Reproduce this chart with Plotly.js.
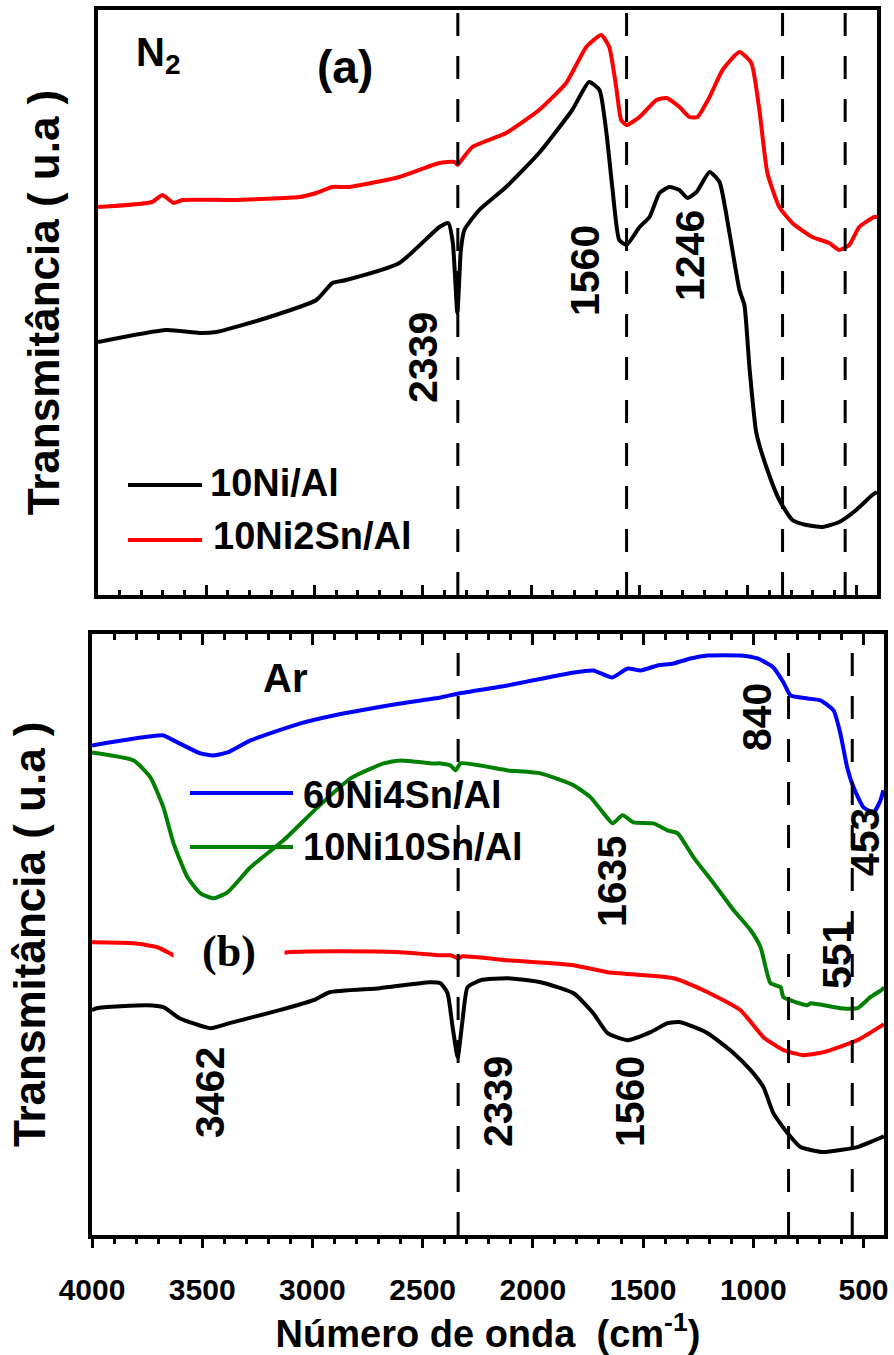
<!DOCTYPE html>
<html>
<head>
<meta charset="utf-8">
<script src="https://cdn.plot.ly/plotly-3.0.1.min.js"></script>
<style>html,body{margin:0;padding:0;background:#fff;}#chart{width:894px;height:1355px;}</style>
</head>
<body>
<div id="chart"></div>
<script>
// ---------- DATA (transmittance in arbitrary units) ----------
// Panel (a) N2
const n2_wn_ni = [4000,3685,3532,3454,3223,2992,2918,2854,2609,2424,2383,2362,2341,2325,2309,2240,2116,1964,1811,1733,1685,1653,1626,1594,1560,1500,1454,1408,1362,1316,1279,1237,1177,1131,1085,1039,1016,993,961,910,855,795,730,656,578,500,426,404];
const n2_t_ni  = [253,265,262,263,277,295,312,315,332,368,372,352,282,345,365,385,408,442,485,513,505,462,408,355,350,368,378,402,408,405,397,403,423,413,362,305,290,228,162,125,95,75,70,68,73,85,100,103];

const n2_wn_ni2sn = [4000,3750,3703,3650,3610,3379,3070,2992,2918,2840,2609,2424,2355,2340,2325,2272,2116,1964,1839,1746,1677,1640,1608,1585,1560,1500,1422,1376,1316,1270,1233,1177,1117,1039,984,947,910,855,795,703,625,578,532,486,417,404];
const n2_t_ni2sn  = [388,393,400,392,395,395,398,402,408,408,418,432,433,430,434,448,462,485,512,548,560,548,508,475,470,478,495,497,488,478,478,498,525,543,532,485,422,388,372,358,352,345,350,368,378,378];

// Panel (b) Ar
const ar_wn_ni = [4000,3978,3751,3676,3603,3462,3376,3149,2995,2922,2695,2468,2419,2387,2364,2341,2319,2296,2237,2115,1965,1815,1726,1661,1570,1466,1389,1330,1207,1089,1012,954,909,845,786,681,605,527,469,414,407];
const ar_t_ni  = [225,227,230,228,217,207,212,225,235,243,247,253,252,242,208,178,215,248,255,257,253,242,222,202,195,203,212,213,202,182,165,148,122,102,88,83,85,88,93,98,99];

const ar_wn_ni2sn = [4000,3811,3703,3612,3500,3450,3350,3200,3113,2904,2601,2419,2374,2337,2320,2115,1815,1661,1362,1207,1058,954,863,772,681,527,414,407];
const ar_t_ni2sn  = [293,292,288,278,270,266,272,280,283,284,283,280,280,277,279,275,270,263,257,243,225,198,185,180,183,195,210,211];

const ar_wn_ni60sn4 = [4000,3676,3630,3508,3449,3385,3281,3054,2904,2601,2419,2337,2115,1815,1726,1640,1570,1511,1434,1362,1285,1207,1058,981,909,863,831,754,695,636,605,574,545,500,455,423,410];
const ar_t_ni60sn4  = [490,500,495,482,480,483,495,512,520,532,538,542,550,563,565,558,567,565,570,572,577,580,580,577,568,553,540,537,535,525,502,468,448,428,423,435,445];

const ar_wn_ni10sn = [4000,3811,3735,3676,3630,3567,3508,3449,3385,3281,3131,2977,2827,2677,2600,2451,2419,2374,2351,2328,2115,1965,1815,1738,1679,1638,1593,1543,1452,1389,1343,1271,1180,1089,1012,967,922,876,863,754,740,605,527,469,414,407];
const ar_t_ni10sn  = [483,475,458,428,392,358,342,337,343,368,395,428,457,472,475,472,472,470,465,472,465,462,450,438,422,412,420,413,412,405,402,378,352,325,305,288,252,248,238,230,232,227,227,238,246,248];

// reference lines (cm-1) and tick labels
const n2_lines = [2339, 1560, 840, 551];
const ar_lines = [2339, 840, 551];
const tickVals = [4000, 3500, 3000, 2500, 2000, 1500, 1000, 500];
const tickText = ['4000', '3500', '3000', '2500', '2000', '1500', '1000', '500'];
const seriesNames = ['10Ni/Al', '10Ni2Sn/Al', '60Ni4Sn/Al', '10Ni10Sn/Al'];
const seriesColors = ['#000000', '#ff0000', '#0000ff', '#008000'];

// ---------- CHART ----------
const W = 894, H = 1355;
const px = v => v / W;
const py = v => 1 - v / H;
const SANS = '"Liberation Sans", Arial, Helvetica, sans-serif';
const SERIF = '"Liberation Serif", "Times New Roman", serif';
const LW = 4;

function tr(x, y, i, xa, ya) {
  return {x: x, y: y, type: 'scatter', mode: 'lines', name: seriesNames[i],
          line: {color: seriesColors[i], width: LW, shape: 'spline', smoothing: 0.5}, xaxis: xa, yaxis: ya,
          showlegend: false, hoverinfo: 'skip'};
}

const data = [
  tr(n2_wn_ni, n2_t_ni, 0, 'x', 'y'),
  tr(n2_wn_ni2sn, n2_t_ni2sn, 1, 'x', 'y'),
  tr(ar_wn_ni, ar_t_ni, 0, 'x2', 'y2'),
  tr(ar_wn_ni2sn, ar_t_ni2sn, 1, 'x2', 'y2'),
  tr(ar_wn_ni10sn, ar_t_ni10sn, 3, 'x2', 'y2'),
  tr(ar_wn_ni60sn4, ar_t_ni60sn4, 2, 'x3', 'y2')
];

const shapes = [];
n2_lines.forEach(v => shapes.push({type: 'line', xref: 'x', yref: 'y domain', x0: v, x1: v, y0: 0, y1: 1,
  line: {color: '#000', width: 3, dash: '23px,20px'}, layer: 'above'}));
ar_lines.forEach(v => shapes.push({type: 'line', xref: 'x2', yref: 'y2 domain', x0: v, x1: v, y0: 0, y1: 1,
  line: {color: '#000', width: 3, dash: '23px,20px'}, layer: 'above'}));

// manual legends
const legendItems = [
  {i: 0, x0: 128, x1: 202, y: 485, tx: 208, ty: 483},
  {i: 1, x0: 128, x1: 202, y: 540, tx: 211, ty: 536},
  {i: 2, x0: 190, x1: 293, y: 793, tx: 301, ty: 795},
  {i: 3, x0: 190, x1: 293, y: 847, tx: 301, ty: 847}
];
legendItems.forEach(it => shapes.push({type: 'line', xref: 'paper', yref: 'paper',
  x0: px(it.x0), x1: px(it.x1), y0: py(it.y), y1: py(it.y),
  line: {color: seriesColors[it.i], width: 4}}));

function ann(text, x, y, size, opts) {
  return Object.assign({text: text, xref: 'paper', yref: 'paper', x: px(x), y: py(y),
    xanchor: 'center', yanchor: 'middle', showarrow: false,
    font: {family: SANS, size: size, color: '#000', weight: 700}}, opts || {});
}

const annotations = [
  ann('<b>N<sub>2</sub></b>', 158, 55, 40),
  ann('<b>(a)</b>', 345, 67, 46),
  ann('<b>2339</b>', 423, 358, 41, {textangle: -90}),
  ann('<b>1560</b>', 585, 271, 41, {textangle: -90}),
  ann('<b>1246</b>', 690, 256, 41, {textangle: -90}),
  ann('<b>Ar</b>', 285, 678, 40),
  ann('<b>(b)</b>', 229, 951, 44, {font: {family: SERIF, size: 44, color: '#000', weight: 700},
       bgcolor: '#ffffff', width: 108, height: 48}),
  ann('<b>840</b>', 757, 717, 41, {textangle: -90}),
  ann('<b>453</b>', 865, 842, 41, {textangle: -90}),
  ann('<b>1635</b>', 612, 882, 41, {textangle: -90}),
  ann('<b>551</b>', 837, 955, 41, {textangle: -90}),
  ann('<b>3462</b>', 210, 1093, 41, {textangle: -90}),
  ann('<b>2339</b>', 498, 1102, 41, {textangle: -90}),
  ann('<b>1560</b>', 630, 1102, 41, {textangle: -90})
];
legendItems.forEach(it => annotations.push(ann('<b>' + seriesNames[it.i] + '</b>', it.tx, it.ty, 38, {xanchor: 'left'})));

const axLine = {showline: true, linewidth: 4, linecolor: '#000', mirror: true, showgrid: false, zeroline: false};

const layout = {
  width: W, height: H,
  margin: {l: 0, r: 0, t: 0, b: 0},
  paper_bgcolor: '#fff', plot_bgcolor: '#fff',
  showlegend: false,
  font: {family: SANS, color: '#000'},
  xaxis: Object.assign({}, axLine, {
    domain: [px(98), px(877)], range: [4000, 404], anchor: 'y',
    ticks: 'inside', ticklen: 10, tickwidth: 3, tickcolor: '#000',
    tickmode: 'array', tickvals: tickVals, showticklabels: false,
    minor: {ticks: 'inside', ticklen: 5, tickwidth: 3, tickcolor: '#000', tickmode: 'linear', tick0: 0, dtick: 100}
  }),
  yaxis: Object.assign({}, axLine, {
    domain: [1 - 595 / H, 1 - 10 / H], range: [0, 585], anchor: 'x',
    ticks: '', showticklabels: false,
    title: {text: '<b>Transmitância ( u.a )</b>', font: {family: SANS, size: 44, weight: 700}, standoff: 22}
  }),
  xaxis2: Object.assign({}, axLine, {
    domain: [px(92), px(884)], range: [4000, 407], anchor: 'y2',
    ticks: 'outside', ticklen: 9, tickwidth: 3, tickcolor: '#000',
    tickmode: 'array', tickvals: tickVals, ticktext: tickText,
    ticklabelstandoff: 16,
    tickfont: {family: SANS, size: 30, weight: 700},
    minor: {ticks: 'outside', ticklen: 5, tickwidth: 3, tickcolor: '#000', tickmode: 'linear', tick0: 0, dtick: 100},
    title: {text: '<b>Número de onda  (cm<sup>-1</sup>)</b>', font: {family: SANS, size: 38, weight: 700}, standoff: 18}
  }),
  xaxis3: {
    overlaying: 'x2', side: 'top', anchor: 'y2', range: [4000, 407],
    showline: false, showgrid: false, zeroline: false,
    ticks: 'inside', ticklen: 11, tickwidth: 3, tickcolor: '#000',
    tickmode: 'array', tickvals: tickVals, showticklabels: false,
    minor: {ticks: 'inside', ticklen: 6, tickwidth: 3, tickcolor: '#000', tickmode: 'linear', tick0: 0, dtick: 100}
  },
  yaxis2: Object.assign({}, axLine, {
    domain: [1 - 1235 / H, 1 - 633.5 / H], range: [0, 602], anchor: 'x2',
    ticks: '', showticklabels: false,
    title: {text: '<b>Transmitância ( u.a )</b>', font: {family: SANS, size: 44, weight: 700}, standoff: 30}
  }),
  shapes: shapes,
  annotations: annotations
};

Plotly.newPlot('chart', data, layout, {staticPlot: true, displayModeBar: false});
</script>
</body>
</html>
